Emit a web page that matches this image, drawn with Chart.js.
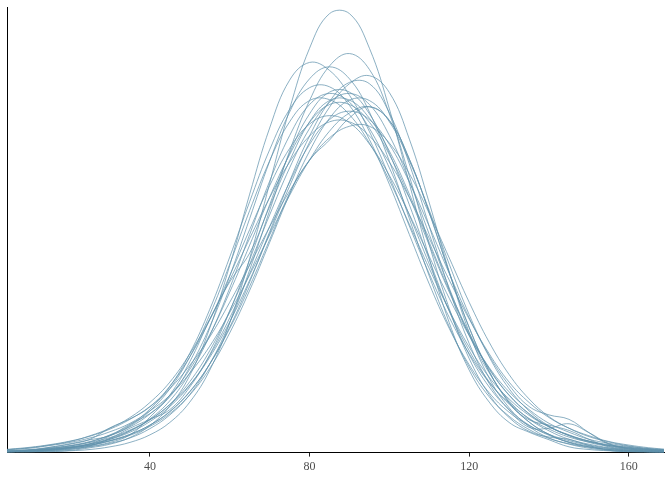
<!DOCTYPE html>
<html>
<head>
<meta charset="utf-8">
<script src="https://cdn.jsdelivr.net/npm/chart.js@4.4.0/dist/chart.umd.min.js"></script>
<style>
  body { margin: 0; background: #fff; }
  canvas { display: block; }
</style>
</head>
<body>
<canvas id="chartDensity" width="672" height="480"></canvas>
<script>
// eixo x comum a todas as curvas
const xs = [0, 5, 10, 15, 20, 25, 30, 35, 40, 45, 50, 55, 60, 65, 70, 75, 80, 85, 90, 95, 100, 105, 110, 115, 120, 125, 130, 135, 140, 145, 150, 155, 160, 165, 170];
const tickValues = [40, 80, 120, 160];

// densidades (escala 0-100 = topo do painel)
const curve01 = [0.0, 0.1, 0.1, 0.2, 0.4, 0.7, 1.3, 2.3, 4.0, 6.8, 11.4, 18.6, 29.3, 43.8, 60.7, 77.5, 91.2, 99.0, 99.0, 91.2, 77.5, 60.7, 43.8, 29.3, 18.6, 11.4, 6.8, 4.6, 2.9, 1.3, 0.7, 0.4, 0.2, 0.1, 0.1];
const curve02 = [0.1, 0.2, 0.2, 0.4, 0.7, 1.3, 2.1, 3.3, 5.4, 8.5, 13.1, 20.0, 29.3, 41.2, 54.6, 68.0, 79.4, 87.2, 90.0, 86.4, 76.4, 62.4, 46.8, 32.5, 21.2, 13.1, 7.9, 4.8, 3.5, 3.0, 1.6, 0.5, 0.2, 0.1, 0.1];
const curve03 = [0.1, 0.1, 0.2, 0.3, 0.5, 1.1, 1.9, 3.4, 6.1, 10.5, 17.4, 28.1, 42.2, 58.3, 73.2, 84.0, 88.0, 86.2, 80.6, 72.4, 62.2, 51.1, 40.3, 30.5, 22.3, 15.8, 11.2, 7.7, 5.3, 3.5, 2.4, 1.6, 1.0, 0.7, 0.4];
const curve04 = [0.1, 0.2, 0.4, 0.7, 1.2, 2.0, 3.8, 6.4, 8.8, 12.6, 19.3, 28.4, 39.8, 52.8, 65.7, 76.8, 84.3, 87.0, 84.3, 76.8, 65.7, 52.8, 39.8, 28.4, 19.3, 12.6, 8.2, 5.2, 3.2, 2.0, 1.2, 0.7, 0.4, 0.2, 0.1];
const curve05 = [0.3, 0.4, 0.6, 1.0, 1.5, 2.3, 3.4, 5.1, 7.4, 10.8, 15.3, 21.5, 29.5, 38.9, 49.4, 60.1, 70.0, 77.9, 83.2, 85.0, 81.2, 70.7, 56.3, 40.8, 27.1, 16.8, 10.1, 5.9, 3.3, 1.9, 1.0, 0.5, 0.3, 0.2, 0.1];
const curve06 = [0.2, 0.2, 0.4, 0.7, 1.1, 1.7, 2.7, 4.1, 6.2, 9.2, 13.7, 20.0, 28.3, 38.5, 49.8, 61.2, 71.4, 79.2, 83.5, 83.2, 76.6, 65.1, 51.0, 36.8, 24.6, 15.6, 9.6, 5.7, 5.5, 6.5, 4.5, 2.0, 0.8, 0.2, 0.1];
const curve07 = [0.2, 0.3, 0.5, 0.9, 1.5, 2.4, 4.0, 6.2, 9.8, 14.9, 22.4, 32.3, 44.1, 56.6, 68.3, 77.4, 82.3, 82.5, 78.3, 70.6, 60.5, 49.2, 38.0, 28.0, 19.8, 13.5, 9.1, 6.1, 4.1, 2.7, 1.7, 1.0, 0.6, 0.4, 0.2];
const curve08 = [0.1, 0.2, 0.3, 0.5, 0.9, 1.5, 3.2, 5.5, 7.5, 9.7, 14.8, 22.1, 31.9, 43.5, 55.9, 67.5, 76.4, 81.3, 81.3, 76.4, 67.5, 55.9, 43.5, 31.9, 22.1, 14.8, 9.7, 6.2, 3.9, 2.4, 1.5, 0.9, 0.5, 0.3, 0.2];
const curve09 = [0.2, 0.3, 0.5, 0.8, 1.3, 2.0, 3.2, 4.9, 7.4, 10.9, 16.0, 23.0, 32.0, 42.5, 53.6, 64.2, 73.1, 79.0, 81.0, 78.5, 71.5, 61.2, 49.2, 37.1, 26.4, 18.0, 11.7, 7.6, 4.9, 3.0, 1.9, 1.1, 0.6, 0.4, 0.2];
const curve10 = [0.1, 0.2, 0.4, 0.6, 1.1, 1.9, 3.0, 4.9, 7.6, 11.7, 18.0, 26.4, 37.1, 49.2, 61.2, 71.5, 78.5, 81.0, 79.0, 73.1, 64.2, 53.6, 42.5, 32.0, 23.0, 16.0, 10.9, 7.4, 6.2, 5.0, 3.0, 1.3, 0.8, 0.5, 0.3];
const curve11 = [0.1, 0.2, 0.4, 0.6, 1.0, 1.6, 2.6, 3.9, 5.9, 8.8, 13.0, 19.0, 27.0, 36.6, 47.4, 58.3, 68.0, 75.4, 79.5, 79.4, 74.6, 65.8, 54.6, 42.5, 31.1, 21.6, 14.4, 9.4, 6.0, 3.8, 2.3, 1.4, 0.8, 0.5, 0.3];
const curve12 = [0.2, 0.4, 0.6, 1.0, 1.6, 2.5, 3.9, 5.8, 8.7, 12.9, 18.8, 26.6, 36.2, 46.8, 57.6, 67.2, 74.5, 78.5, 78.5, 74.5, 67.2, 57.6, 46.8, 36.2, 26.6, 18.8, 12.9, 8.7, 5.8, 3.9, 2.5, 1.6, 1.0, 0.6, 0.4];
const curve13 = [0.2, 0.3, 0.5, 1.2, 2.0, 2.9, 3.8, 6.0, 9.4, 14.4, 21.6, 31.1, 42.5, 54.6, 65.8, 74.6, 79.4, 79.6, 76.2, 69.8, 61.4, 51.5, 41.5, 32.1, 23.8, 17.0, 12.1, 8.4, 5.8, 4.0, 2.6, 1.8, 1.2, 0.7, 0.5];
const curve14 = [0.5, 0.7, 1.0, 1.6, 2.3, 3.3, 4.7, 6.6, 9.4, 12.9, 17.9, 24.0, 31.6, 40.1, 49.1, 58.0, 66.0, 72.5, 76.6, 78.0, 74.9, 66.2, 54.1, 40.6, 28.2, 18.3, 11.3, 6.9, 4.1, 2.3, 1.3, 0.7, 0.4, 0.2, 0.1];
const curve15 = [0.2, 0.3, 0.5, 0.8, 1.2, 1.9, 3.0, 4.6, 7.0, 10.4, 15.2, 21.9, 30.4, 40.4, 51.0, 61.0, 69.5, 75.1, 77.0, 75.1, 69.5, 61.0, 51.0, 40.4, 30.4, 21.9, 15.2, 10.4, 8.5, 7.5, 4.5, 1.9, 1.2, 0.8, 0.5];
const curve16 = [0.3, 0.5, 0.7, 1.2, 1.9, 3.0, 5.6, 7.6, 10.3, 15.0, 21.6, 30.0, 39.9, 50.3, 60.2, 68.6, 74.1, 76.0, 74.4, 69.6, 62.5, 53.7, 44.2, 34.8, 26.4, 19.2, 13.7, 9.7, 6.6, 4.6, 3.0, 2.1, 1.4, 0.9, 0.6];
const curve17 = [0.4, 0.7, 1.1, 1.7, 2.5, 3.8, 5.5, 7.9, 11.3, 15.9, 22.3, 30.1, 38.9, 48.3, 57.5, 65.5, 71.4, 74.6, 74.6, 71.4, 65.5, 57.5, 48.3, 38.9, 30.1, 22.3, 15.9, 11.3, 7.9, 5.5, 3.8, 2.5, 1.7, 1.1, 0.7];
const curve18 = [0.5, 0.8, 1.2, 1.8, 2.6, 3.7, 5.3, 7.5, 10.4, 14.4, 19.7, 26.1, 33.9, 42.3, 50.9, 59.0, 65.9, 71.0, 73.6, 73.6, 69.8, 62.9, 53.9, 43.9, 33.9, 24.9, 17.6, 12.1, 8.1, 5.5, 3.6, 2.4, 1.5, 0.9, 0.6];
const curve19 = [0.1, 0.2, 0.3, 0.5, 0.8, 1.4, 2.3, 4.0, 8.0, 13.0, 20.5, 30.0, 38.5, 45.0, 55.5, 65.8, 74.6, 79.4, 79.5, 75.4, 68.0, 58.3, 47.4, 36.6, 27.0, 19.0, 13.0, 8.8, 5.9, 3.9, 2.6, 1.6, 1.0, 0.6, 0.4];
const curve20 = [0.1, 0.2, 0.4, 0.7, 1.1, 1.7, 2.7, 4.1, 6.2, 9.3, 13.8, 20.0, 28.0, 37.5, 48.0, 58.5, 66.0, 70.5, 75.5, 78.0, 74.9, 66.2, 54.1, 40.6, 28.2, 18.3, 11.3, 6.9, 4.1, 2.3, 1.3, 0.7, 0.4, 0.2, 0.1];

const curves = [curve01, curve02, curve03, curve04, curve05, curve06, curve07, curve08, curve09, curve10,
                curve11, curve12, curve13, curve14, curve15, curve16, curve17, curve18, curve19, curve20];

const datasets = curves.map(c => ({
    data: c.map((y, i) => ({ x: xs[i], y: y })),
    borderColor: 'rgba(95, 145, 172, 0.72)',
    borderWidth: 1,
    pointRadius: 0,
    tension: 0.4,
    fill: false
}));

var ctx = document.getElementById('chartDensity').getContext('2d');
var densityChart = new Chart(ctx, {
    type: 'line',
    data: { datasets: datasets },
    options: {
        responsive: false,
        animation: false,
        layout: { padding: { left: 7, right: 8, top: 7, bottom: 3 } },
        plugins: {
            legend: { display: false },
            tooltip: { enabled: false }
        },
        scales: {
            x: {
                type: 'linear',
                min: 4.2,
                max: 168.8,
                afterBuildTicks: axis => { axis.ticks = tickValues.map(v => ({ value: v })); },
                grid: { display: true, drawOnChartArea: false, drawTicks: true, tickLength: 4, tickColor: '#222' },
                border: { display: true, color: '#000', width: 1 },
                ticks: { color: '#4d4d4d', font: { family: 'Liberation Serif', size: 12 }, padding: 3, maxRotation: 0 }
            },
            y: {
                min: 0,
                max: 100.5,
                ticks: { display: false },
                grid: { display: false, drawTicks: false },
                border: { display: true, color: '#000', width: 1 }
            }
        }
    }
});
</script>
</body>
</html>
